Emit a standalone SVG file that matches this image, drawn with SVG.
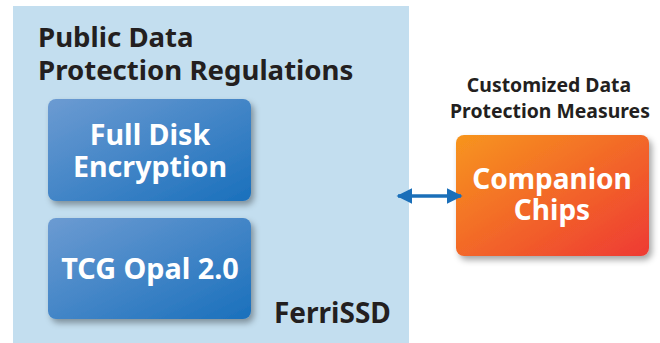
<svg xmlns="http://www.w3.org/2000/svg" width="660" height="343" viewBox="0 0 660 343">
<defs>
<linearGradient id="gBlue" x1="0" y1="0" x2="1" y2="1">
<stop offset="0" stop-color="#6C9BD2"/>
<stop offset="1" stop-color="#1A70BC"/>
</linearGradient>
<linearGradient id="gOrange" x1="0" y1="0" x2="1" y2="1">
<stop offset="0" stop-color="#F7951E"/>
<stop offset="1" stop-color="#EE3A33"/>
</linearGradient>
<filter id="sh" x="-20%" y="-20%" width="150%" height="150%">
<feGaussianBlur in="SourceAlpha" stdDeviation="3"/>
<feOffset dx="3" dy="4" result="b"/>
<feFlood flood-color="#000" flood-opacity="0.35"/>
<feComposite in2="b" operator="in"/>
<feMerge><feMergeNode/><feMergeNode in="SourceGraphic"/></feMerge>
</filter>
<marker id="ah" viewBox="0 0 10 10" refX="9" refY="5" markerWidth="4.5" markerHeight="4.5" orient="auto-start-reverse" markerUnits="strokeWidth">
<path d="M0,0 L10,5 L0,10 Z" fill="#1A6FB9"/>
</marker>
<style>
text{font-family:"Noto Sans","Liberation Sans",sans-serif;font-weight:bold}
.dark{fill:#231F20}
.w{fill:#fff;text-anchor:middle}
</style>
</defs>
<rect width="660" height="343" fill="#fff"/>
<g id="ferrissd">
<rect x="13" y="6" width="396" height="337" fill="#C3DEEF"/>
<text class="dark" font-size="27.6"><tspan x="38" y="47">Public Data</tspan><tspan x="38" y="80">Protection Regulations</tspan></text>
<text class="dark" x="274" y="323" font-size="28">FerriSSD</text>
</g>
<g id="fde">
<rect x="48" y="99" width="203" height="102" rx="8" fill="url(#gBlue)" filter="url(#sh)"/>
<text class="w" font-size="28.6"><tspan x="150" y="145">Full Disk</tspan><tspan x="150" y="177">Encryption</tspan></text>
</g>
<g id="tcg">
<rect x="48" y="218" width="203" height="101" rx="8" fill="url(#gBlue)" filter="url(#sh)"/>
<text class="w" x="150" y="279" font-size="28.8">TCG Opal 2.0</text>
</g>
<g id="chips">
<text class="dark" font-size="19.4" text-anchor="middle"><tspan x="549" y="92">Customized Data</tspan><tspan x="550" y="118">Protection Measures</tspan></text>
<rect x="456" y="135" width="193" height="121" rx="8" fill="url(#gOrange)" filter="url(#sh)"/>
<text class="w" font-size="28"><tspan x="552" y="189">Companion</tspan><tspan x="552" y="220">Chips</tspan></text>
</g>
<g id="connectors">
<line x1="398" y1="196" x2="461" y2="196" stroke="#1A6FB9" stroke-width="3.5" marker-start="url(#ah)" marker-end="url(#ah)"/>
</g>
</svg>
